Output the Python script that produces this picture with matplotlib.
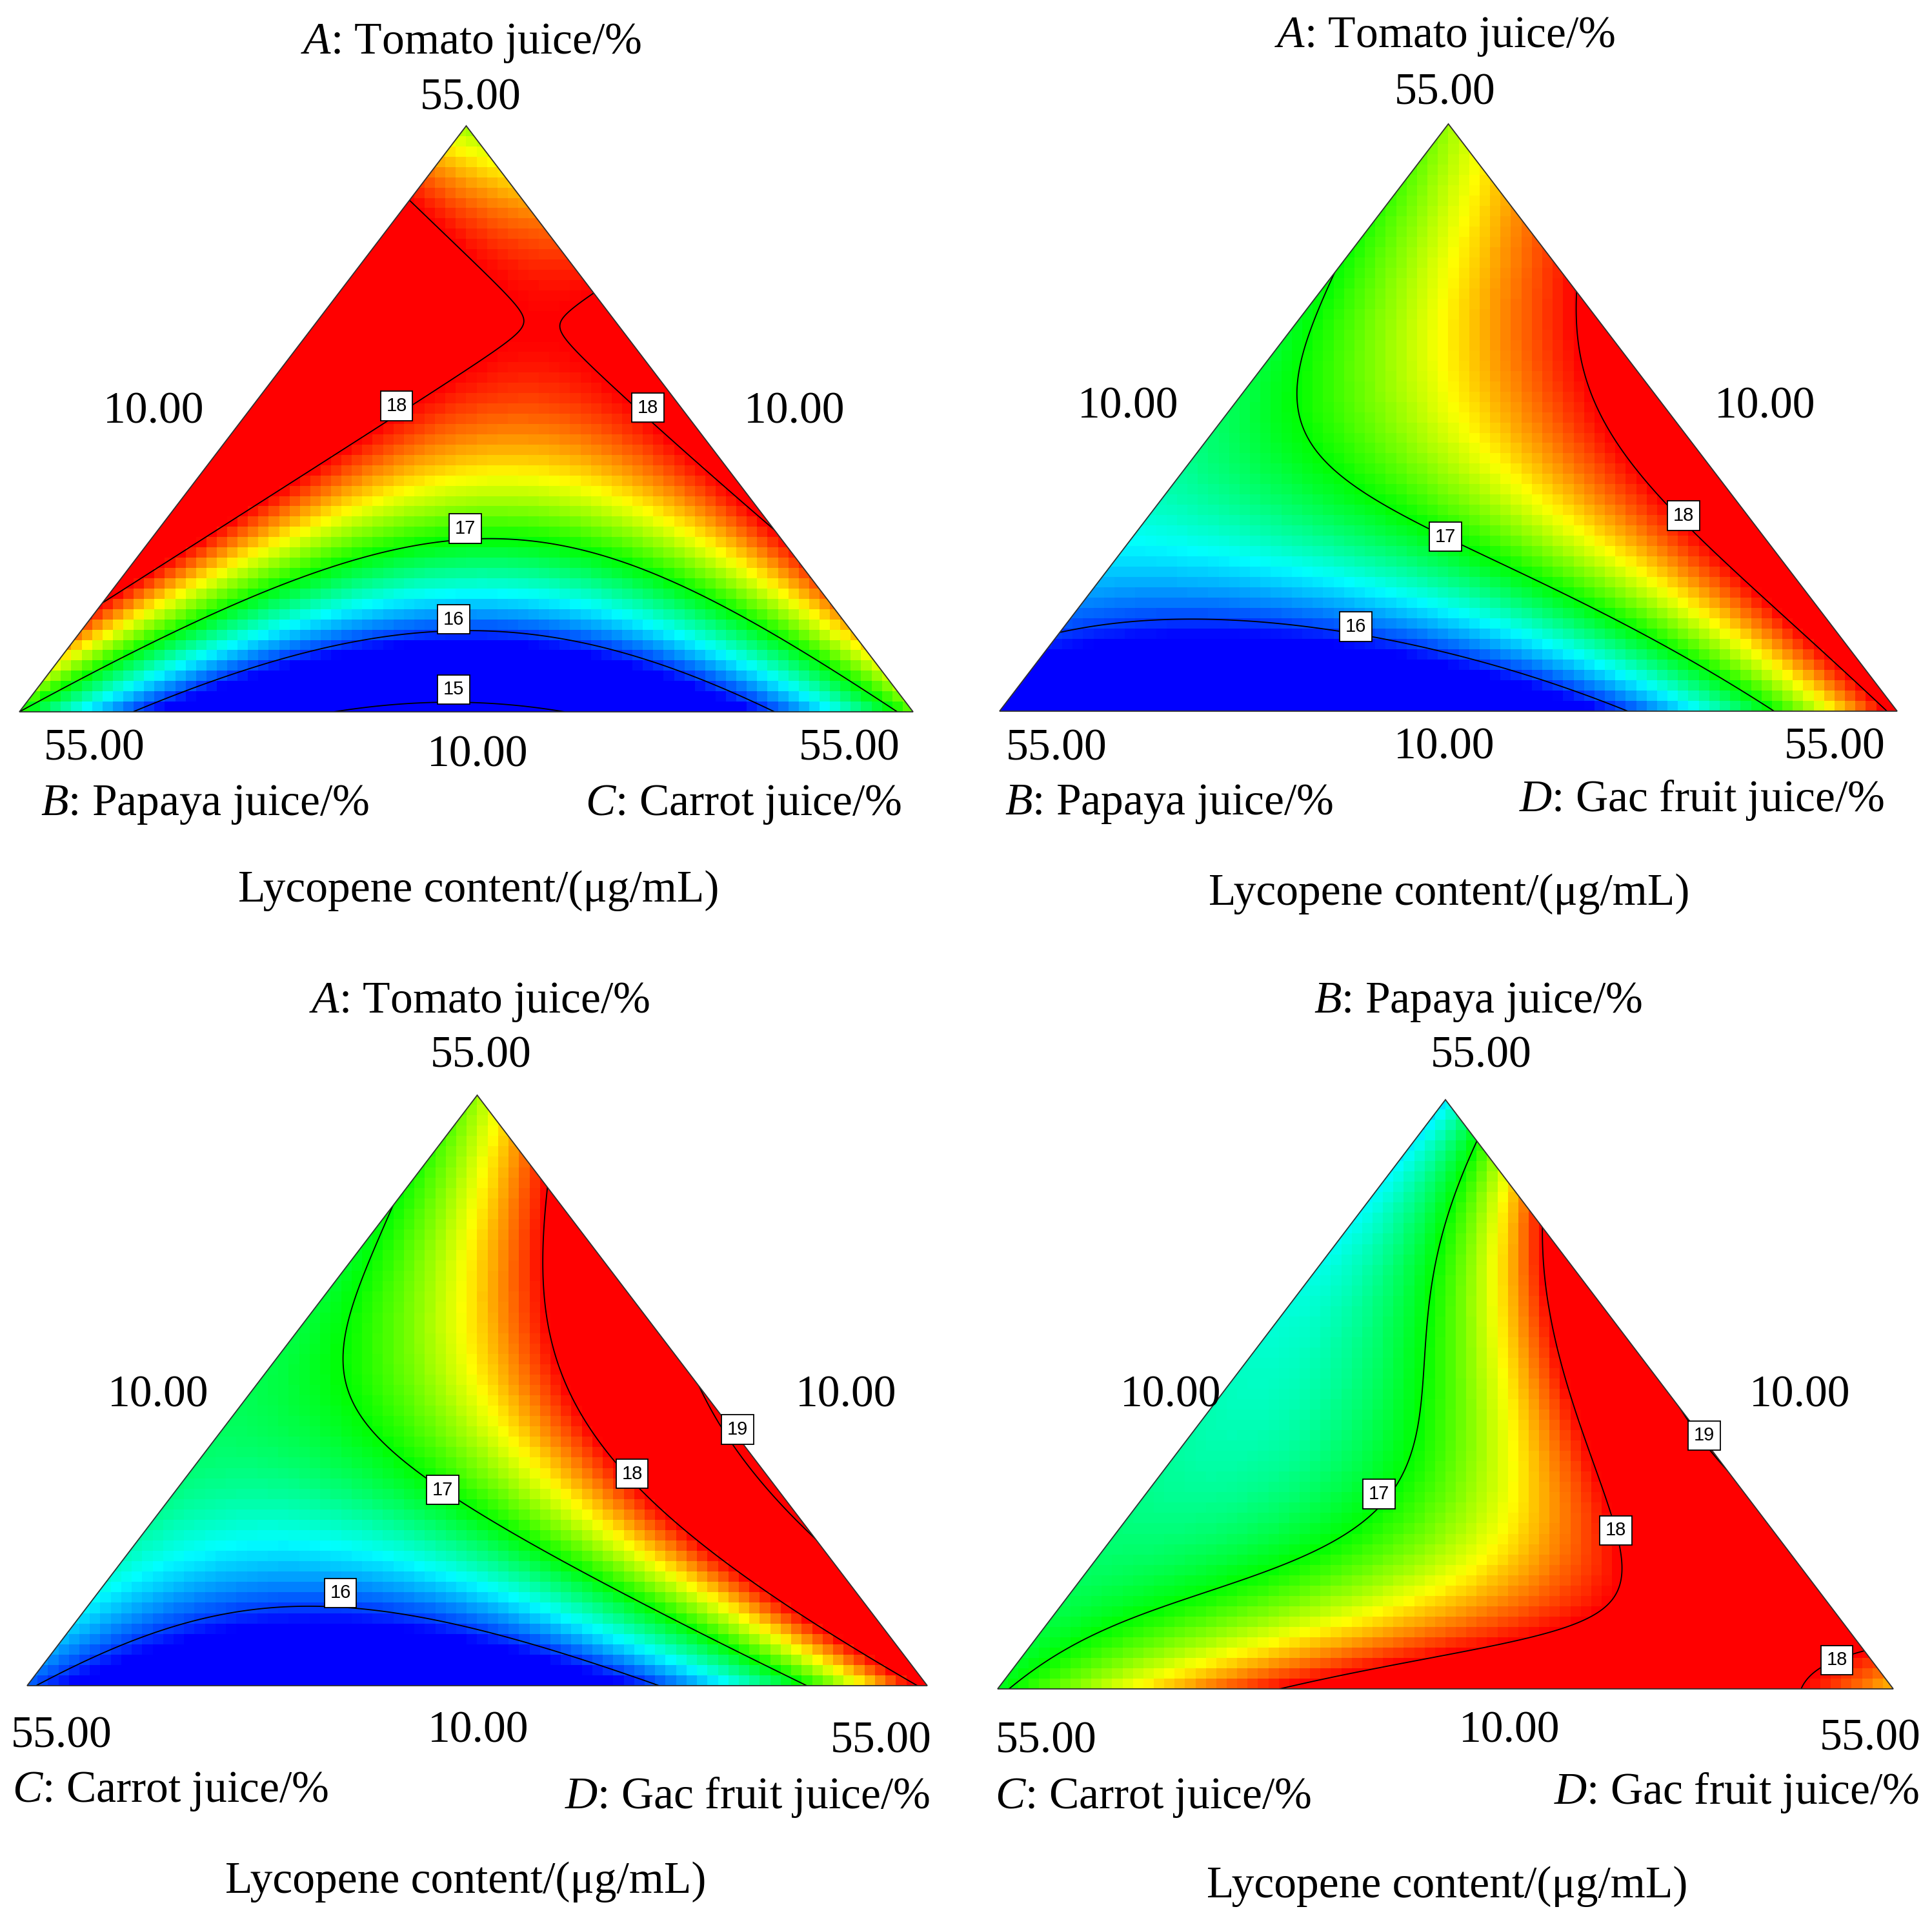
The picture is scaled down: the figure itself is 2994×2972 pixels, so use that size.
import numpy as np
import matplotlib
matplotlib.use("Agg")
import matplotlib.pyplot as plt
from matplotlib.colors import LinearSegmentedColormap, Normalize
from matplotlib.patches import Polygon

plt.rcParams["font.family"] = ["Liberation Serif", "DejaVu Serif"]
plt.rcParams["mathtext.fontset"] = "custom"
plt.rcParams["mathtext.rm"] = "Liberation Serif"
plt.rcParams["mathtext.it"] = "Liberation Serif:italic"

# fitted Scheffe cubic mixture models (lycopene, ug/mL), one per ternary plot
# order: top, left, right, top*left, top*right, left*right,
#        d(top,left), d(top,right), d(left,right), top*left*right
coef_abc = [17.3, 17.0, 17.15, 6.43, 3.70, -8.88, 0.305, -0.133, -0.403, -2.36]
coef_abd = [17.3, 15.4, 18.1, 1.77, 2.31, -6.10, -1.64, 0.0, 0.1, 11.3]
coef_acd = [17.3, 16.05, 18.1, 0.6, 5.24, -7.12, -1.65, -1.27, 0.0, 3.3]
coef_bcd = [16.4, 16.95, 17.6, -0.3, 7.9, 4.28, 0.0, 0.0, -0.98, -29.9]

levels_abc = [15, 16, 17, 18]
levels_abd = [16, 17, 18]
levels_acd = [16, 17, 18, 19]
levels_bcd = [17, 18, 19]

top_names = ["$\\mathit{A}$: Tomato juice/%", "$\\mathit{A}$: Tomato juice/%",
             "$\\mathit{A}$: Tomato juice/%", "$\\mathit{B}$: Papaya juice/%"]
left_names = ["$\\mathit{B}$: Papaya juice/%", "$\\mathit{B}$: Papaya juice/%",
              "$\\mathit{C}$: Carrot juice/%", "$\\mathit{C}$: Carrot juice/%"]
right_names = ["$\\mathit{C}$: Carrot juice/%", "$\\mathit{D}$: Gac fruit juice/%",
               "$\\mathit{D}$: Gac fruit juice/%", "$\\mathit{D}$: Gac fruit juice/%"]
comp_max = 55.0
comp_min = 10.0
response = "Lycopene content/(\u03bcg/mL)"

coefs = [coef_abc, coef_abd, coef_acd, coef_bcd]
levels = [levels_abc, levels_abd, levels_acd, levels_bcd]

# colour scale used by the response surface
scale_vals = [15.85, 16.45, 17.0, 17.5, 18.0]
scale_cols = ["#0000ff", "#00ffff", "#00ff00", "#ffff00", "#ff0000"]

W, H = 2994, 2972
# triangle in output pixels: left x, right x, base y, apex y
tri_px = [(30, 1415, 1103, 195), (1549, 2940, 1102, 192),
          (42, 1437, 2612, 1697), (1546, 2934, 2617, 1704)]

# text anchors in output pixels (x, baseline y)
layout = [
    dict(title=(730, 83), top=(729, 170), left10=(238, 656), right10=(1231, 656),
         bl=(146, 1178), bottom10=(740, 1188), br=(1316, 1178),
         lname=(63, 1263), rname=(1397, 1263), resp=(742, 1397)),
    dict(title=(2239, 73), top=(2239, 162), left10=(1748, 647), right10=(2735, 647),
         bl=(1637, 1178), bottom10=(2238, 1175), br=(2843, 1175),
         lname=(1557, 1262), rname=(2920, 1257), resp=(2246, 1402)),
    dict(title=(743, 1569), top=(745, 1654), left10=(245, 2179), right10=(1311, 2179),
         bl=(95, 2707), bottom10=(741, 2699), br=(1365, 2715),
         lname=(19, 2792), rname=(1441, 2802), resp=(722, 2933)),
    dict(title=(2291, 1569), top=(2295, 1654), left10=(1814, 2179), right10=(2789, 2179),
         bl=(1621, 2715), bottom10=(2339, 2699), br=(2898, 2712),
         lname=(1542, 2802), rname=(2974, 2795), resp=(2243, 2940)),
]

# contour label boxes, in triangle fractions (x across base, y up to apex)
label_pos = [
    [(0.422, 0.522), (0.703, 0.519), (0.499, 0.313), (0.486, 0.158), (0.486, 0.038)],
    [(0.497, 0.297), (0.762, 0.333), (0.397, 0.144)],
    [(0.4615, 0.3315), (0.672, 0.359), (0.789, 0.434), (0.348, 0.157)],
    [(0.426, 0.331), (0.690, 0.269), (0.789, 0.430), (0.937, 0.049)],
]

NX, NY = 86, 57


def mixture(coef, a, b, c):
    t, l, r, tl, tr, lr, dtl, dtr, dlr, tlr = coef
    return (t * a + l * b + r * c
            + tl * a * b + tr * a * c + lr * b * c
            + dtl * a * b * (a - b) + dtr * a * c * (a - c) + dlr * b * c * (b - c)
            + tlr * a * b * c)


def bary(x, y):
    a = y
    c = x - 0.5 * y
    b = 1.0 - a - c
    return a, b, c


def px(pt):
    return pt[0] / W, 1 - pt[1] / H


span = scale_vals[-1] - scale_vals[0]
cmap = LinearSegmentedColormap.from_list(
    "de", [((v - scale_vals[0]) / span, col) for v, col in zip(scale_vals, scale_cols)])
norm = Normalize(scale_vals[0], scale_vals[-1])

fig = plt.figure(figsize=(W / 100, H / 100), dpi=100)

for i in range(4):
    lx, rx, base, apex = tri_px[i]
    ax = fig.add_axes([lx / W, 1 - base / H, (rx - lx) / W, (base - apex) / H])
    ax.set_xlim(0, 1)
    ax.set_ylim(0, 1)
    ax.axis("off")

    tri = Polygon([(0, 0), (1, 0), (0.5, 1)], closed=True, fill=False,
                  ec="#303030", lw=1.3, zorder=5, clip_on=False)
    ax.add_patch(tri)

    xs = (np.arange(NX) + 0.5) / NX
    ys = (np.arange(NY) + 0.5) / NY
    gx, gy = np.meshgrid(xs, ys)
    z = mixture(coefs[i], *bary(gx, gy))
    im = ax.imshow(z, origin="lower", extent=(0, 1, 0, 1), cmap=cmap, norm=norm,
                   interpolation="nearest", aspect="auto")
    im.set_clip_path(tri)

    fine = np.linspace(0, 1, 500)
    fx, fy = np.meshgrid(fine, fine)
    fz = mixture(coefs[i], *bary(fx, fy))
    cs = ax.contour(fx, fy, fz, levels=levels[i], colors="black", linewidths=1.3)
    cs.set_clip_path(tri)
    texts = ax.clabel(cs, inline=False, fmt="%d", fontsize=21, manual=label_pos[i])
    for t, pos in zip(texts, label_pos[i]):
        t.set_rotation(0)
        t.set_position(pos)
        t.set_family(["Liberation Sans Narrow", "Liberation Sans", "DejaVu Sans"])
        t.set_bbox(dict(boxstyle="square,pad=0.3", fc="white", ec="black", lw=1.3))
        t.set_zorder(6)

    lay = layout[i]
    fs = 50
    fig.text(*px(lay["title"]), top_names[i], ha="center", va="baseline", fontsize=fs)
    fig.text(*px(lay["top"]), f"{comp_max:.2f}", ha="center", va="baseline", fontsize=fs)
    fig.text(*px(lay["left10"]), f"{comp_min:.2f}", ha="center", va="baseline", fontsize=fs)
    fig.text(*px(lay["right10"]), f"{comp_min:.2f}", ha="center", va="baseline", fontsize=fs)
    fig.text(*px(lay["bl"]), f"{comp_max:.2f}", ha="center", va="baseline", fontsize=fs)
    fig.text(*px(lay["bottom10"]), f"{comp_min:.2f}", ha="center", va="baseline", fontsize=fs)
    fig.text(*px(lay["br"]), f"{comp_max:.2f}", ha="center", va="baseline", fontsize=fs)
    fig.text(*px(lay["lname"]), left_names[i], ha="left", va="baseline", fontsize=fs)
    fig.text(*px(lay["rname"]), right_names[i], ha="right", va="baseline", fontsize=fs)
    fig.text(*px(lay["resp"]), response, ha="center", va="baseline", fontsize=fs)

fig.savefig("out.png", dpi=100)
